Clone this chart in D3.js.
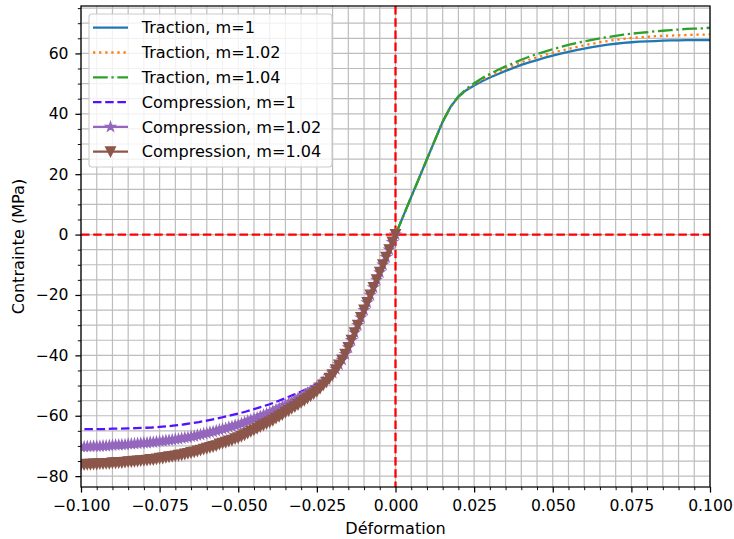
<!DOCTYPE html>
<html><head><meta charset="utf-8">
<script src="https://cdn.jsdelivr.net/npm/d3@7"></script>
<style>body{margin:0;background:#fff} svg{display:block} text{font-family:"DejaVu Sans",sans-serif}</style>
</head><body><svg id="c" width="734" height="539"></svg>
<script>
// ---------- data ----------
const tractionStep = 0.0025;   // strain sampling of traction curves (0 .. 0.1)
const compStep = 0.001;        // strain sampling of marker curves (0 .. -0.1)

const tractionM1   = [0,6.2,12.5,18.7,25.0,31.2,37.4,42.3,45.6,47.8,49.4,50.8,52.0,53.1,54.2,55.2,56.2,57.0,57.8,58.6,59.3,59.9,60.5,61.1,61.6,62.1,62.5,62.9,63.2,63.5,63.7,63.9,64.0,64.1,64.2,64.3,64.3,64.4,64.4,64.4,64.4];
const tractionM102 = [0,6.2,12.5,18.7,25.0,31.2,37.4,42.3,45.7,48.0,49.8,51.3,52.6,53.8,55.0,56.0,57.0,57.9,58.7,59.5,60.2,60.9,61.5,62.1,62.7,63.2,63.7,64.1,64.5,64.8,65.1,65.3,65.5,65.7,65.8,65.9,66.0,66.1,66.2,66.2,66.3];
const tractionM104 = [0,6.2,12.5,18.7,25.0,31.2,37.4,42.3,45.8,48.2,50.1,51.8,53.2,54.5,55.7,56.8,57.9,58.9,59.8,60.6,61.4,62.1,62.8,63.4,64.0,64.5,65.0,65.4,65.8,66.2,66.5,66.8,67.0,67.3,67.5,67.7,67.9,68.1,68.2,68.3,68.5];
// compression m=1 on the traction grid, strain 0 .. -0.1
const compressionM1 = [0,-6.2,-12.5,-18.7,-25.0,-31.2,-37.4,-42.3,-45.6,-47.8,-49.4,-50.8,-52.0,-53.1,-54.2,-55.2,-56.2,-57.0,-57.8,-58.6,-59.3,-59.9,-60.5,-61.1,-61.6,-62.1,-62.5,-62.9,-63.2,-63.5,-63.7,-63.9,-64.0,-64.1,-64.2,-64.3,-64.3,-64.4,-64.4,-64.4,-64.4];
// compression with markers, strain 0 .. -0.1 step 0.001
const compressionM102 = [0,-2.5,-5.0,-7.5,-10.0,-12.5,-15.0,-17.5,-20.0,-22.5,-25.0,-27.5,-30.0,-32.5,-35.0,-37.4,-39.6,-41.5,
 -43.0,-44.5,-45.8,-46.9,-47.9,-48.8,-49.7,-50.5,-51.3,-51.9,-52.5,-53.2,-53.8,
 -54.3,-54.9,-55.4,-56.0,-56.5,-57.0,-57.5,-58.0,-58.5,-59.0,
 -59.4,-59.8,-60.2,-60.7,-61.0,-61.4,-61.8,-62.2,-62.6,-63.0,
 -63.2,-63.6,-63.8,-64.2,-64.4,-64.7,-65.0,-65.3,-65.5,-65.8,
 -66.0,-66.3,-66.5,-66.8,-66.9,-67.2,-67.3,-67.5,-67.7,-67.8,
 -68.0,-68.1,-68.2,-68.4,-68.5,-68.6,-68.8,-68.8,-69.0,-69.0,
 -69.1,-69.2,-69.3,-69.4,-69.4,-69.6,-69.6,-69.7,-69.7,-69.8,
 -69.9,-70.0,-70.0,-70.1,-70.1,-70.1,-70.2,-70.2,-70.3,-70.3];
const compressionM104 = [0,-2.5,-5.0,-7.5,-10.0,-12.5,-15.0,-17.5,-20.0,-22.5,-25.0,-27.5,-30.0,-32.5,-35.0,-37.4,-39.6,-41.5,
 -43.2,-44.8,-46.4,-47.6,-48.9,-49.9,-50.9,-51.9,-52.7,-53.4,-54.2,-54.9,-55.6,
 -56.3,-57.0,-57.6,-58.3,-58.9,-59.6,-60.2,-60.8,-61.5,-62.1,
 -62.6,-63.1,-63.6,-64.2,-64.7,-65.2,-65.8,-66.3,-66.8,-67.3,
 -67.6,-68.1,-68.4,-68.8,-69.1,-69.4,-69.9,-70.2,-70.5,-70.8,
 -71.1,-71.4,-71.7,-72.0,-72.2,-72.5,-72.7,-73.0,-73.1,-73.3,
 -73.5,-73.6,-73.8,-74.0,-74.1,-74.3,-74.5,-74.5,-74.7,-74.8,
 -74.9,-75.0,-75.1,-75.2,-75.2,-75.4,-75.5,-75.5,-75.6,-75.6,
 -75.8,-75.8,-75.9,-75.9,-76.0,-76.0,-76.1,-76.1,-76.2,-76.2];

const xMajorTicks = [-0.1,-0.075,-0.05,-0.025,0,0.025,0.05,0.075,0.1];
const yMajorTicks = [-80,-60,-40,-20,0,20,40,60];
const xMinorStep = 0.005, yMinorStep = 5;
const legendLabels = ["Traction, m=1","Traction, m=1.02","Traction, m=1.04","Compression, m=1","Compression, m=1.02","Compression, m=1.04"];
const xLabel = "Déformation", yLabel = "Contrainte (MPa)";

// ---------- layout ----------
const L=81, R=710, T=6, B=487, FS=15.6, FSL=16.1, LW=2.3;
const svg = d3.select("#c");
const x = d3.scaleLinear().domain([-0.1,0.1]).range([L,R]);
const y = d3.scaleLinear().domain([-83.6,75.7]).range([B,T]);

const xMinor = d3.range(-20,21).map(i=>+(i*xMinorStep).toFixed(4));
const yMinor = d3.range(-16,16).map(i=>i*yMinorStep).filter(v=>v>=y.domain()[0]&&v<=y.domain()[1]);

svg.append("rect").attr("x",L).attr("y",T).attr("width",R-L).attr("height",B-T).attr("fill","#fff");
// grid (minor + major)
const grid = svg.append("g").attr("stroke","#bdbdbd").attr("stroke-width",1.2);
xMinor.forEach(v=>grid.append("line").attr("x1",x(v)).attr("x2",x(v)).attr("y1",T).attr("y2",B));
yMinor.forEach(v=>grid.append("line").attr("y1",y(v)).attr("y2",y(v)).attr("x1",L).attr("x2",R));

svg.append("defs").append("clipPath").attr("id","clip").append("rect").attr("x",L).attr("y",T).attr("width",R-L).attr("height",B-T);
const plot = svg.append("g").attr("clip-path","url(#clip)");

const tStrain = tractionM1.map((_,i)=>i*tractionStep);
const cStrainT = compressionM1.map((_,i)=>-i*tractionStep);
const cStrain = compressionM102.map((_,i)=>-i*compStep);

const line = d3.line().x(d=>x(d[0])).y(d=>y(d[1]));
const zip = (xs,ys)=>xs.map((v,i)=>[v,ys[i]]);

const styles = [
  {color:"#1f77b4", dash:null},
  {color:"#ff7f0e", dash:`${1*LW},${1.65*LW}`},
  {color:"#2ca02c", dash:`${6.4*LW},${1.6*LW},${1*LW},${1.6*LW}`},
  {color:"#5511ff", dash:`${3.7*LW},${1.6*LW}`},
  {color:"#9467bd", dash:null, marker:"star"},
  {color:"#8c564b", dash:null, marker:"tri"}
];
const MR = 4.8;
function markerPath(type,r){
  if(type==="tri") return `M${-r},${-r}L${r},${-r}L0,${r}Z`;
  const pts=[];
  for(let k=0;k<10;k++){const a=-Math.PI/2+k*Math.PI/5; const rr=k%2?r*0.381966:r; pts.push([rr*Math.cos(a),rr*Math.sin(a)]);}
  return "M"+pts.map(p=>p[0].toFixed(2)+","+p[1].toFixed(2)).join("L")+"Z";
}

// red reference lines
plot.append("line").attr("x1",x(0)).attr("x2",x(0)).attr("y1",T).attr("y2",B)
  .attr("stroke","#ff0000").attr("stroke-width",LW).attr("stroke-dasharray",`${3.7*LW},${1.6*LW}`);
plot.append("line").attr("x1",L).attr("x2",R).attr("y1",y(0)).attr("y2",y(0))
  .attr("stroke","#ff0000").attr("stroke-width",LW).attr("stroke-dasharray",`${3.7*LW},${1.6*LW}`);

const series = [
  zip(tStrain,tractionM1), zip(tStrain,tractionM102), zip(tStrain,tractionM104),
  zip(cStrainT,compressionM1), zip(cStrain,compressionM102), zip(cStrain,compressionM104)
];
series.forEach((d,i)=>{
  const s=styles[i];
  plot.append("path").attr("d",line(d)).attr("fill","none").attr("stroke",s.color)
    .attr("stroke-width",LW).attr("stroke-dasharray",s.dash);
  if(s.marker){
    plot.append("g").selectAll("path").data(d).join("path")
      .attr("d",markerPath(s.marker,MR))
      .attr("transform",p=>`translate(${x(p[0])},${y(p[1])})`)
      .attr("fill",s.color).attr("stroke",s.color).attr("stroke-width",1.4);
  }
});

// spines
svg.append("rect").attr("x",L).attr("y",T).attr("width",R-L).attr("height",B-T)
  .attr("fill","none").attr("stroke","#000").attr("stroke-width",1.25);

// axes
const minus = v => v<0 ? "\u2212"+Math.abs(v) : String(v);
const xAxis = svg.append("g").attr("transform",`translate(0,${B})`)
  .call(d3.axisBottom(x).tickValues(xMajorTicks).tickSize(5.6).tickPadding(7.3)
    .tickFormat(v=>(v<0?"\u2212":"")+Math.abs(v).toFixed(3)));
const yAxis = svg.append("g").attr("transform",`translate(${L},0)`)
  .call(d3.axisLeft(y).tickValues(yMajorTicks).tickSize(5.6).tickPadding(6.9).tickFormat(minus));
[xAxis,yAxis].forEach(a=>{
  a.select(".domain").remove();
  a.selectAll("line").attr("stroke","#000").attr("stroke-width",1.25);
  a.selectAll("text").attr("font-size",FS).attr("fill","#000").attr("font-family","DejaVu Sans");
});
svg.append("g").attr("transform",`translate(0,${B})`)
  .call(d3.axisBottom(x).tickValues(xMinor.filter(v=>!xMajorTicks.some(m=>Math.abs(m-v)<1e-9))).tickSize(3.2).tickFormat(""))
  .call(g=>{g.select(".domain").remove(); g.selectAll("line").attr("stroke","#000").attr("stroke-width",0.95);});
svg.append("g").attr("transform",`translate(${L},0)`)
  .call(d3.axisLeft(y).tickValues(yMinor.filter(v=>v%20!==0)).tickSize(3.2).tickFormat(""))
  .call(g=>{g.select(".domain").remove(); g.selectAll("line").attr("stroke","#000").attr("stroke-width",0.95);});

svg.append("text").attr("x",(L+R)/2).attr("y",533.5).attr("text-anchor","middle").attr("font-size",FSL).text(xLabel);
svg.append("text").attr("transform",`translate(23.5,${(T+B)/2}) rotate(-90)`).attr("text-anchor","middle").attr("font-size",FSL).text(yLabel);

// legend
const lg = svg.append("g");
lg.append("rect").attr("x",89).attr("y",14).attr("width",243).attr("height",153).attr("rx",3)
  .attr("fill","#fff").attr("fill-opacity",0.8).attr("stroke","#cccccc").attr("stroke-width",1.1);
legendLabels.forEach((lab,i)=>{
  const cy = 27.7 + i*24.8, s = styles[i];
  lg.append("line").attr("x1",93).attr("x2",128).attr("y1",cy).attr("y2",cy)
    .attr("stroke",s.color).attr("stroke-width",LW).attr("stroke-dasharray",s.dash);
  if(s.marker) lg.append("path").attr("d",markerPath(s.marker,MR)).attr("transform",`translate(110.5,${cy})`)
    .attr("fill",s.color).attr("stroke",s.color).attr("stroke-width",1.4);
  lg.append("text").attr("x",141.7).attr("y",cy+5.7).attr("font-size",FSL).text(lab);
});
</script></body></html>
